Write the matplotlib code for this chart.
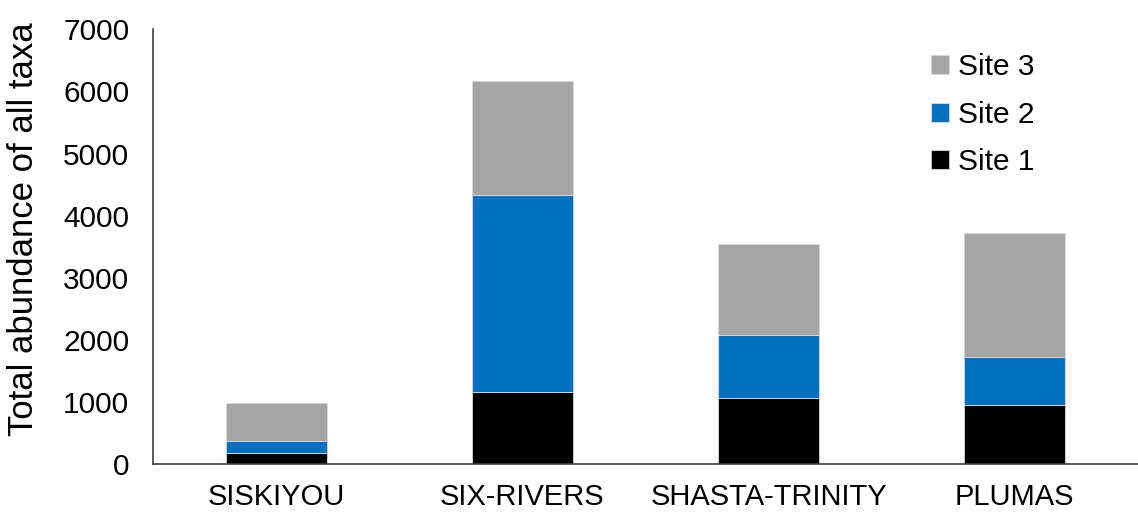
import numpy as np
import matplotlib.pyplot as plt

plt.rcParams["font.family"] = ["Liberation Sans", "DejaVu Sans"]

# Total abundance of all taxa per forest, split by site
forests = ["SISKIYOU", "SIX-RIVERS", "SHASTA-TRINITY", "PLUMAS"]
site1 = [172, 1155, 1068, 945]
site2 = [203, 3177, 1009, 778]
site3 = [602, 1831, 1466, 1992]

x = np.arange(len(forests))
width = 0.41

fig = plt.figure(figsize=(11.38, 5.12), dpi=100)
ax = fig.add_axes([0.1344, 0.0937, 0.8656, 0.849])

b1 = ax.bar(x, site1, width, color="#000000", edgecolor="#d9d9d9", linewidth=0.6, label="Site 1")
b2 = ax.bar(x, site2, width, bottom=site1, color="#0070C0", edgecolor="#d9d9d9", linewidth=0.6, label="Site 2")
bottom3 = np.array(site1) + np.array(site2)
b3 = ax.bar(x, site3, width, bottom=bottom3, color="#A5A5A5", edgecolor="#d9d9d9", linewidth=0.6, label="Site 3")

ax.set_xlim(-0.5, 3.5)
ax.set_ylim(0, 7000)
ax.set_yticks(range(0, 7001, 1000))
ax.set_xticks(x)
ax.set_xticklabels(forests, fontsize=21)
ax.tick_params(axis="y", length=0, labelsize=21.5, pad=17)
ax.tick_params(axis="x", length=0, pad=14)

for side in ["top", "right"]:
    ax.spines[side].set_visible(False)
ax.spines["left"].set_color("#404040")
ax.spines["bottom"].set_color("#404040")
ax.spines["left"].set_linewidth(1.2)
ax.spines["bottom"].set_linewidth(1.2)

ax.set_ylabel("Total abundance of all taxa", fontsize=25)
ax.yaxis.set_label_coords(-0.115, 0.54)

handles = [b3, b2, b1]
ax.legend(handles, [h.get_label() for h in handles], loc="upper left",
          bbox_to_anchor=(0.778, 0.972), frameon=False, fontsize=21.5,
          handlelength=0.6, handleheight=0.6, handletextpad=0.3,
          labelspacing=0.64, borderaxespad=0)

fig.savefig("out.png", dpi=100)
